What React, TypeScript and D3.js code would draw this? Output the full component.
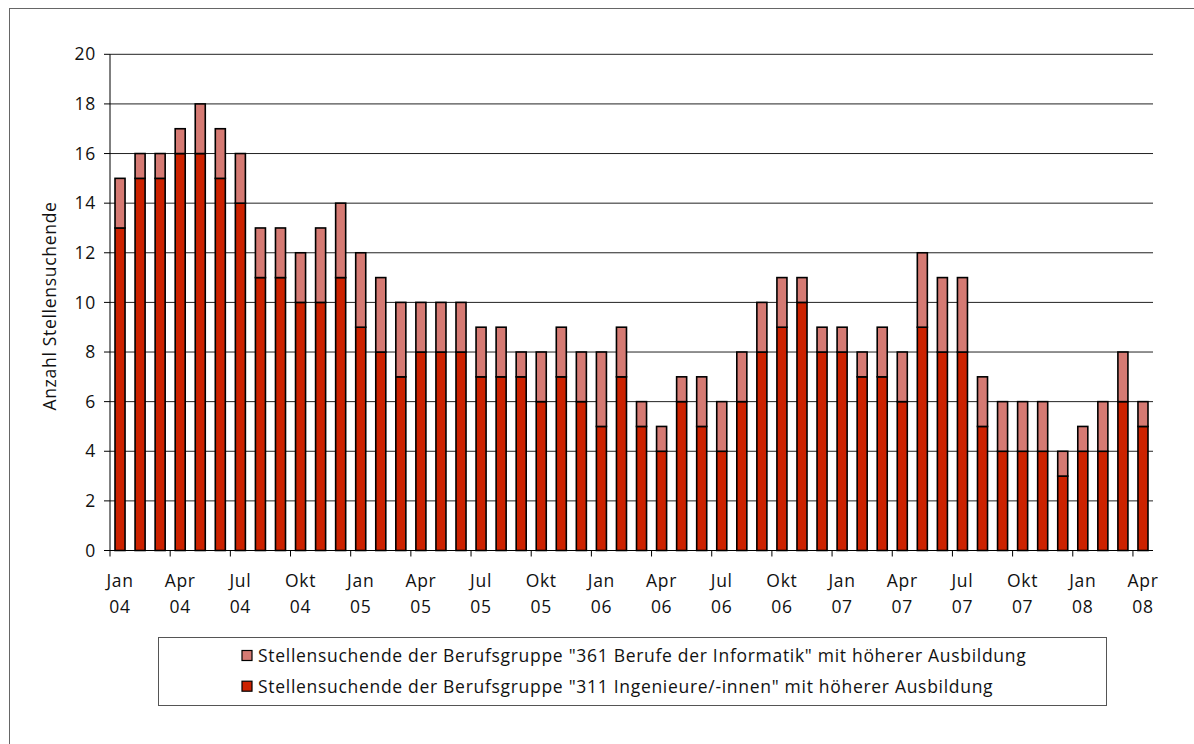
import React from "react";
import * as d3 from "d3";

const months = ["Jan","Feb","Mär","Apr","Mai","Jun","Jul","Aug","Sep","Okt","Nov","Dez"];
const years = ["04","05","06","07","08"];

// series: "311 Ingenieure/-innen" (lower) and "361 Berufe der Informatik" (upper)
const ingenieure = [13,15,15,16,16,15,14,11,11,10,10,11, 9,8,7,8,8,8,7,7,7,6,7,6, 5,7,5,4,6,5,4,6,8,9,10,8, 8,7,7,6,9,8,8,5,4,4,4,3, 4,4,6,5];
const totals = [15,16,16,17,18,17,16,13,13,12,13,14, 12,11,10,10,10,10,9,9,8,8,9,8, 8,9,6,5,7,7,6,8,10,11,11,9, 9,8,9,8,12,11,11,7,6,6,6,4, 5,6,8,6];
const informatik = totals.map((t, i) => t - ingenieure[i]);

const yTicks = [0,2,4,6,8,10,12,14,16,18,20];
const legendLabels = [
  'Stellensuchende der Berufsgruppe "361 Berufe der Informatik" mit höherer Ausbildung',
  'Stellensuchende der Berufsgruppe "311 Ingenieure/-innen" mit höherer Ausbildung',
];
const colors = { ingenieure: "#CC2200", informatik: "#D57A73" };

const categories = ingenieure.map((_, i) => `${months[i % 12]} ${years[Math.floor(i / 12)]}`);

export default function App() {
  const W = 1194, H = 744;
  const x0 = 110, x1 = 1153, yTop = 54.3, yBot = 550.5;
  const font = "'Open Sans', 'Noto Sans', sans-serif";
  const x = d3.scaleBand<string>().domain(categories).range([x0, x1]).paddingInner(0.5).paddingOuter(0.25);
  const bandStep = x.step();
  const y = d3.scaleLinear().domain([0, 20]).range([yBot, yTop]);
  const stackData = categories.map((c, i) => ({ c, ing: ingenieure[i], inf: informatik[i] }));
  const stack = d3.stack<any>().keys(["ing", "inf"])(stackData);
  const fillFor = [colors.ingenieure, colors.informatik];
  const tickIdx = d3.range(0, categories.length, 3);
  const ls = 0.7;

  return (
    <svg width={W} height={H} style={{ position: "absolute", left: 0, top: 0, background: "#fff" }} fontFamily={font}>
      <rect x={9.5} y={8.5} width={1200} height={800} fill="#fff" stroke="#666" strokeWidth={1} />
      {yTicks.slice(1).map((t) => (
        <line key={t} x1={x0} x2={x1} y1={y(t)} y2={y(t)} stroke="#222" strokeWidth={1} />
      ))}
      {stack.map((layer, li) => (
        <g key={li}>
          {layer.map((d, i) => (
            d[1] - d[0] > 0 ? (
              <rect key={i} x={x(categories[i])!} width={x.bandwidth()} y={y(d[1])} height={y(d[0]) - y(d[1])}
                fill={fillFor[li]} stroke="#000" strokeWidth={1.6} />
            ) : null
          ))}
        </g>
      ))}
      <line x1={x0} x2={x0} y1={yTop} y2={yBot} stroke="#000" strokeWidth={1} />
      {yTicks.map((t) => (
        <g key={t}>
          <line x1={x0 - 6} x2={x0} y1={y(t)} y2={y(t)} stroke="#000" strokeWidth={1} />
          <text x={96} y={y(t)} dy="0.35em" textAnchor="end" fontSize={17.5} letterSpacing={ls} fill="#111">{t}</text>
        </g>
      ))}
      <line x1={x0} x2={x1} y1={yBot} y2={yBot} stroke="#000" strokeWidth={1} />
      {tickIdx.map((i) => (
        <line key={"t" + i} x1={x0 + i * bandStep} x2={x0 + i * bandStep} y1={yBot} y2={yBot + 6} stroke="#000" strokeWidth={1} />
      ))}
      {tickIdx.map((i) => {
        const cx = x(categories[i])! + x.bandwidth() / 2;
        const [m, yr] = categories[i].split(" ");
        return (
          <g key={"l" + i}>
            <text x={cx} y={587} textAnchor="middle" fontSize={17.5} letterSpacing={ls} fill="#111">{m}</text>
            <text x={cx} y={613} textAnchor="middle" fontSize={17.5} letterSpacing={ls} fill="#111">{yr}</text>
          </g>
        );
      })}
      <text transform={`translate(56,${306}) rotate(-90)`} textAnchor="middle" fontSize={17.5} letterSpacing={ls} fill="#111">Anzahl Stellensuchende</text>
      <rect x={158.5} y={637.5} width={948} height={68} fill="#fff" stroke="#555" strokeWidth={1} />
      {legendLabels.map((lbl, i) => (
        <g key={lbl}>
          <rect x={242} y={650.5 + i * 30.7} width={10} height={10} fill={i === 0 ? colors.informatik : colors.ingenieure} stroke="#000" strokeWidth={1.2} />
          <text x={258} y={662 + i * 30.7} fontSize={17.5} letterSpacing={ls} fill="#111">{lbl}</text>
        </g>
      ))}
    </svg>
  );
}
